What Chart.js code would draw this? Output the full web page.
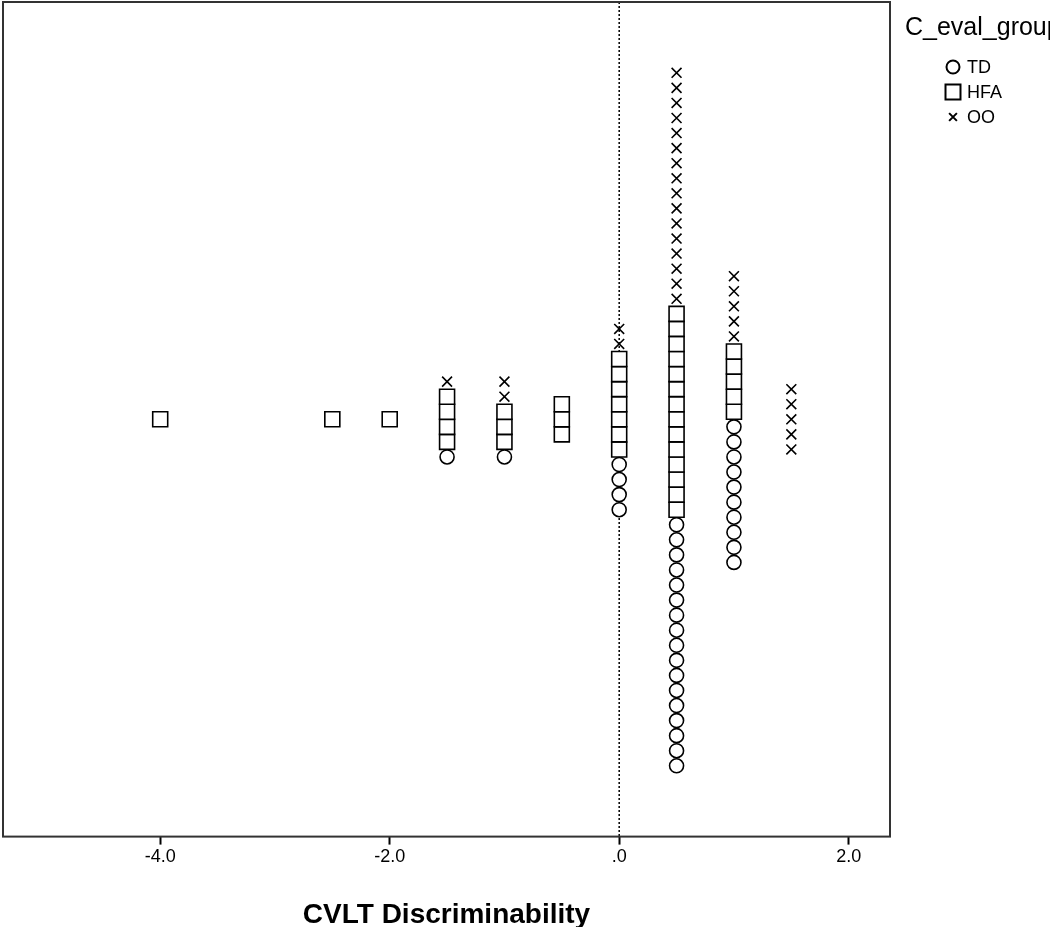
<!DOCTYPE html>
<html>
<head>
<meta charset="utf-8">
<script src="https://cdn.jsdelivr.net/npm/chart.js@4/dist/chart.umd.min.js"></script>
<style>
    body { margin: 0; background: #ffffff; }
    .chart-box { width: 1050px; height: 927px; position: relative; }
</style>
</head>
<body>
<div class="chart-box">
    <canvas id="dotPlot"></canvas>
</div>
<script>
// bins of CVLT Discriminability and how many cases of each group fall in each bin
const bins      = [-4.0, -2.5, -2.0, -1.5, -1.0, -0.5, 0.0, 0.5, 1.0, 1.5];
const tdCounts  = [0, 0, 0, 1, 1, 0, 4, 17, 10, 0];
const hfaCounts = [1, 1, 1, 4, 3, 3, 7, 14, 5, 0];
const ooCounts  = [0, 0, 0, 1, 2, 0, 2, 16, 5, 5];
const groupNames = ['TD', 'HFA', 'OO'];
const xTicks = [-4.0, -2.0, 0.0, 2.0];

// stack the dots of each bin around the middle line (TD at bottom, then HFA, then OO)
function buildStacks() {
    const out = [[], [], []];
    bins.forEach((b, i) => {
        const counts = [tdCounts[i], hfaCounts[i], ooCounts[i]];
        const n = counts[0] + counts[1] + counts[2];
        let pos = -(n - 1) / 2;
        counts.forEach((c, g) => {
            for (let k = 0; k < c; k++) {
                out[g].push({ x: b, y: pos });
                pos++;
            }
        });
    });
    return out;
}

const stacks = buildStacks();

const framePlugin = {
    id: 'frame',
    beforeDatasetsDraw(chart) {
        const { ctx, chartArea: a, scales } = chart;
        const x0 = scales.x.getPixelForValue(0);
        ctx.save();
        ctx.strokeStyle = '#000';
        ctx.lineWidth = 1.5;
        ctx.setLineDash([2, 2]);
        ctx.beginPath();
        ctx.moveTo(x0, a.top);
        ctx.lineTo(x0, a.bottom);
        ctx.stroke();
        ctx.restore();
    },
    afterDraw(chart) {
        const { ctx, chartArea: a } = chart;
        ctx.save();
        ctx.strokeStyle = '#333';
        ctx.lineWidth = 2;
        ctx.strokeRect(a.left, a.top, a.right - a.left, a.bottom - a.top);

        // legend, drawn next to the plot like the SPSS one
        ctx.fillStyle = '#000';
        ctx.textBaseline = 'middle';
        ctx.font = '25px "Liberation Sans", Arial, sans-serif';
        ctx.fillText('C_eval_group', 905, 28);
        ctx.font = '18px "Liberation Sans", Arial, sans-serif';
        chart.data.datasets.forEach((ds, i) => {
            const y = 67 + i * 25;
            ctx.fillStyle = '#fff';
            ctx.strokeStyle = '#000';
            Chart.helpers.drawPoint(ctx, {
                pointStyle: ds.pointStyle,
                radius: ds.legendRadius,
                borderWidth: ds.borderWidth
            }, 953, y);
            ctx.fillStyle = '#000';
            ctx.fillText(ds.label, 967, y + 1);
        });
        ctx.restore();
    }
};

const ctx = document.getElementById('dotPlot').getContext('2d');
new Chart(ctx, {
    type: 'scatter',
    data: {
        datasets: [
            {
                label: groupNames[0], data: stacks[0], pointStyle: 'circle',
                pointRadius: 7, legendRadius: 6.5,
                borderColor: '#000', backgroundColor: '#fff', borderWidth: 1.6
            },
            {
                label: groupNames[1], data: stacks[1], pointStyle: 'rect',
                pointRadius: 10.6, legendRadius: 10.6,
                borderColor: '#000', backgroundColor: '#fff', borderWidth: 1.6
            },
            {
                label: groupNames[2], data: stacks[2], pointStyle: 'crossRot',
                pointRadius: 7, legendRadius: 5.5,
                borderColor: '#000', backgroundColor: '#fff', borderWidth: 1.6
            }
        ]
    },
    options: {
        responsive: true,
        maintainAspectRatio: false,
        animation: false,
        layout: {
            autoPadding: false,
            padding: { left: 3, top: 2, right: 160, bottom: 0 }
        },
        plugins: {
            legend: { display: false },
            tooltip: { enabled: false }
        },
        scales: {
            x: {
                type: 'linear',
                min: -5.37,
                max: 2.36,
                afterBuildTicks: axis => {
                    axis.ticks = xTicks.map(v => ({ value: v }));
                },
                grid: {
                    drawOnChartArea: false,
                    drawTicks: true,
                    tickLength: 8,
                    tickWidth: 2,
                    tickColor: '#000'
                },
                border: { display: false },
                ticks: {
                    color: '#000',
                    padding: 2,
                    font: { family: '"Liberation Sans Narrow", "Arial Narrow", "Liberation Sans", Arial', size: 18 },
                    callback: v => v === 0 ? '.0' : v.toFixed(1)
                },
                title: {
                    display: true,
                    text: 'CVLT Discriminability',
                    color: '#000',
                    padding: { top: 33, bottom: 0 },
                    font: { family: '"Liberation Sans Narrow", "Arial Narrow", "Liberation Sans", Arial', size: 28, weight: 'bold', lineHeight: 0.85 }
                }
            },
            y: {
                display: false,
                min: -27.7,
                max: 27.7
            }
        }
    },
    plugins: [framePlugin]
});
</script>
</body>
</html>
